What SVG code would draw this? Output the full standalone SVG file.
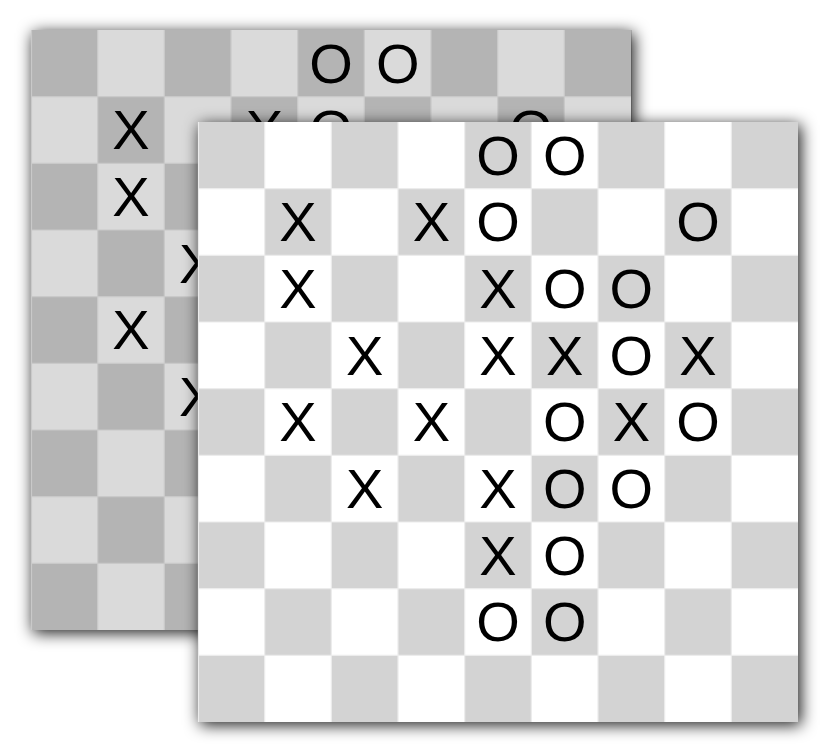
<svg xmlns="http://www.w3.org/2000/svg" xmlns:xlink="http://www.w3.org/1999/xlink" width="829" height="753" viewBox="0 0 829 753">
<style>
.g{fill:#d3d3d3}
.ln{stroke:#ececec;stroke-width:1.2;fill:none}
.pc{font-family:"Liberation Sans",Arial,sans-serif;font-size:56px;fill:#000;text-anchor:middle}
.sh{fill:#000;fill-opacity:0.9;filter:url(#blur)}
</style>
<defs>
<filter id="blur" x="-20%" y="-20%" width="140%" height="140%">
<feGaussianBlur stdDeviation="8"/>
</filter>
<g id="board">
<rect x="0" y="0" width="600" height="600" fill="#fff"/>
<g class="g">
<rect x="0" y="0" width="66.67" height="66.67"/><rect x="133.33" y="0" width="66.67" height="66.67"/><rect x="266.67" y="0" width="66.67" height="66.67"/><rect x="400" y="0" width="66.67" height="66.67"/><rect x="533.33" y="0" width="66.67" height="66.67"/>
<rect x="66.67" y="66.67" width="66.67" height="66.67"/><rect x="200" y="66.67" width="66.67" height="66.67"/><rect x="333.33" y="66.67" width="66.67" height="66.67"/><rect x="466.67" y="66.67" width="66.67" height="66.67"/>
<rect x="0" y="133.33" width="66.67" height="66.67"/><rect x="133.33" y="133.33" width="66.67" height="66.67"/><rect x="266.67" y="133.33" width="66.67" height="66.67"/><rect x="400" y="133.33" width="66.67" height="66.67"/><rect x="533.33" y="133.33" width="66.67" height="66.67"/>
<rect x="66.67" y="200" width="66.67" height="66.67"/><rect x="200" y="200" width="66.67" height="66.67"/><rect x="333.33" y="200" width="66.67" height="66.67"/><rect x="466.67" y="200" width="66.67" height="66.67"/>
<rect x="0" y="266.67" width="66.67" height="66.67"/><rect x="133.33" y="266.67" width="66.67" height="66.67"/><rect x="266.67" y="266.67" width="66.67" height="66.67"/><rect x="400" y="266.67" width="66.67" height="66.67"/><rect x="533.33" y="266.67" width="66.67" height="66.67"/>
<rect x="66.67" y="333.33" width="66.67" height="66.67"/><rect x="200" y="333.33" width="66.67" height="66.67"/><rect x="333.33" y="333.33" width="66.67" height="66.67"/><rect x="466.67" y="333.33" width="66.67" height="66.67"/>
<rect x="0" y="400" width="66.67" height="66.67"/><rect x="133.33" y="400" width="66.67" height="66.67"/><rect x="266.67" y="400" width="66.67" height="66.67"/><rect x="400" y="400" width="66.67" height="66.67"/><rect x="533.33" y="400" width="66.67" height="66.67"/>
<rect x="66.67" y="466.67" width="66.67" height="66.67"/><rect x="200" y="466.67" width="66.67" height="66.67"/><rect x="333.33" y="466.67" width="66.67" height="66.67"/><rect x="466.67" y="466.67" width="66.67" height="66.67"/>
<rect x="0" y="533.33" width="66.67" height="66.67"/><rect x="133.33" y="533.33" width="66.67" height="66.67"/><rect x="266.67" y="533.33" width="66.67" height="66.67"/><rect x="400" y="533.33" width="66.67" height="66.67"/><rect x="533.33" y="533.33" width="66.67" height="66.67"/>
</g>
<path class="ln" d="M0.5 0V600M66.67 0V600M133.33 0V600M200 0V600M266.67 0V600M333.33 0V600M400 0V600M466.67 0V600M533.33 0V600M0 66.67H600M0 133.33H600M0 200H600M0 266.67H600M0 333.33H600M0 400H600M0 466.67H600M0 533.33H600"/>
<g class="pc">
<text x="300" y="52.7">O</text><text x="366.67" y="52.7">O</text>
<text x="100" y="119.4">X</text><text x="233.33" y="119.4">X</text><text x="300" y="119.4">O</text><text x="500" y="119.4">O</text>
<text x="100" y="186">X</text><text x="300" y="186">X</text><text x="366.67" y="186">O</text><text x="433.33" y="186">O</text>
<text x="166.67" y="252.7">X</text><text x="300" y="252.7">X</text><text x="366.67" y="252.7">X</text><text x="433.33" y="252.7">O</text><text x="500" y="252.7">X</text>
<text x="100" y="319.4">X</text><text x="233.33" y="319.4">X</text><text x="366.67" y="319.4">O</text><text x="433.33" y="319.4">X</text><text x="500" y="319.4">O</text>
<text x="166.67" y="386">X</text><text x="300" y="386">X</text><text x="366.67" y="386">O</text><text x="433.33" y="386">O</text>
<text x="300" y="452.7">X</text><text x="366.67" y="452.7">O</text>
<text x="300" y="519.4">O</text><text x="366.67" y="519.4">O</text>
</g>
</g>
</defs>
<rect width="829" height="753" fill="#fff"/>
<g id="back-board">
<rect class="sh" x="33" y="33" width="601" height="600"/>
<use xlink:href="#board" href="#board" transform="translate(31,30)"/>
<rect x="31" y="30" width="601" height="600" fill="#000" fill-opacity="0.145"/>
</g>
<g id="front-board">
<rect class="sh" x="200" y="125" width="601" height="600"/>
<use xlink:href="#board" href="#board" transform="translate(198,122)"/>
</g>
</svg>
